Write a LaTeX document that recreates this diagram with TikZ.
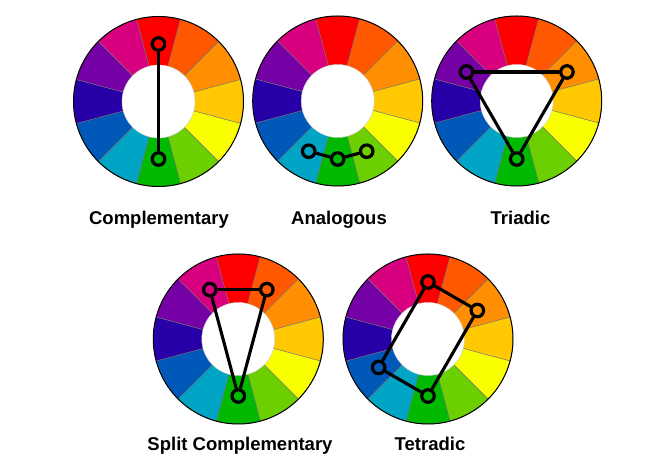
\documentclass[tikz,border=0pt]{standalone}
\usepackage{fontspec}
\setmainfont{Liberation Sans}
\definecolor{cA}{HTML}{FF0000}
\definecolor{cB}{HTML}{FF5800}
\definecolor{cC}{HTML}{FF8E00}
\definecolor{cD}{HTML}{FFC800}
\definecolor{cE}{HTML}{FAFF00}
\definecolor{cF}{HTML}{6CCF00}
\definecolor{cG}{HTML}{00B900}
\definecolor{cH}{HTML}{00A4C4}
\definecolor{cI}{HTML}{0058B8}
\definecolor{cJ}{HTML}{2800A8}
\definecolor{cK}{HTML}{7400A6}
\definecolor{cL}{HTML}{D8007F}
\tikzset{
  segline/.style={draw=black!55, line width=0.4pt},
  rim/.style={draw=black, line width=1pt},
  hole/.style={fill=white, draw=black!20, line width=0.4pt},
  marker/.style={circle, draw=black, line width=3.2pt, minimum size=12.5pt, inner sep=0pt},
  link/.style={draw=black, line width=3.1pt},
  caption/.style={font=\fontsize{18.5}{22}\selectfont\bfseries, anchor=base, inner sep=0pt}
}
\newcommand\mywheel[2]{%
  \begin{scope}[shift={(#1pt,#2pt)}]
    \foreach \c [count=\i from 0] in {cA,cB,cC,cD,cE,cF,cG,cH,cI,cJ,cK,cL}{
      \pgfmathsetmacro\sa{75-30*\i}
      \pgfmathsetmacro\ea{105-30*\i}
      \filldraw[fill=\c, segline] (0,0) -- (\sa:85pt) arc[start angle=\sa, end angle=\ea, radius=85pt] -- cycle;
    }
    \draw[rim] (0,0) circle[radius=85pt];
    \filldraw[hole] (0,0) circle[radius=36.5pt];
  \end{scope}}
\begin{document}
\begin{tikzpicture}[x=1pt,y=1pt]
\useasboundingbox (0,0) rectangle (654,473);
% wheels
\mywheel{158.5}{371.5}
\mywheel{337.7}{372}
\mywheel{516.7}{372}
\mywheel{238.3}{134}
\mywheel{428}{134}
% complementary
\begin{scope}[shift={(158.5pt,371.5pt)}]
  \node[marker] (cp1) at (90:57.5pt) {};
  \node[marker] (cp2) at (270:57.5pt) {};
\end{scope}
\draw[link] (cp1) -- (cp2);
% analogous
\begin{scope}[shift={(337.7pt,372pt)}]
  \node[marker] (an1) at (240:58pt) {};
  \node[marker] (an2) at (270:58pt) {};
  \node[marker] (an3) at (300:58pt) {};
\end{scope}
\draw[link] (an1) -- (an2) -- (an3);
% triadic
\begin{scope}[shift={(516.7pt,372pt)}]
  \node[marker] (tr1) at (150:58pt) {};
  \node[marker] (tr2) at (30:58pt) {};
  \node[marker] (tr3) at (270:58pt) {};
\end{scope}
\draw[link] (tr1) -- (tr2);
\draw[link] (tr2) -- (tr3);
\draw[link] (tr3) -- (tr1);
% split complementary
\begin{scope}[shift={(238.3pt,134pt)}]
  \node[marker] (sp1) at (120:57pt) {};
  \node[marker] (sp2) at (60:57pt) {};
  \node[marker] (sp3) at (270:57pt) {};
\end{scope}
\draw[link] (sp1) -- (sp2);
\draw[link] (sp2) -- (sp3);
\draw[link] (sp3) -- (sp1);
% tetradic
\begin{scope}[shift={(428pt,134pt)}]
  \node[marker] (te1) at (90:57pt) {};
  \node[marker] (te2) at (30:57pt) {};
  \node[marker] (te3) at (270:57pt) {};
  \node[marker] (te4) at (210:57pt) {};
\end{scope}
\draw[link] (te1) -- (te2);
\draw[link] (te2) -- (te3);
\draw[link] (te3) -- (te4);
\draw[link] (te4) -- (te1);
% captions
\node[caption] (l1) at (159,248) {Complementary};
\node[caption] (l2) at (339,248) {Analogous};
\node[caption] (l3) at (520.5,248) {Triadic};
\node[caption] (l4) at (240,22.3) {Split Complementary};
\node[caption] (l5) at (430,22.3) {Tetradic};
\end{tikzpicture}
\end{document}
